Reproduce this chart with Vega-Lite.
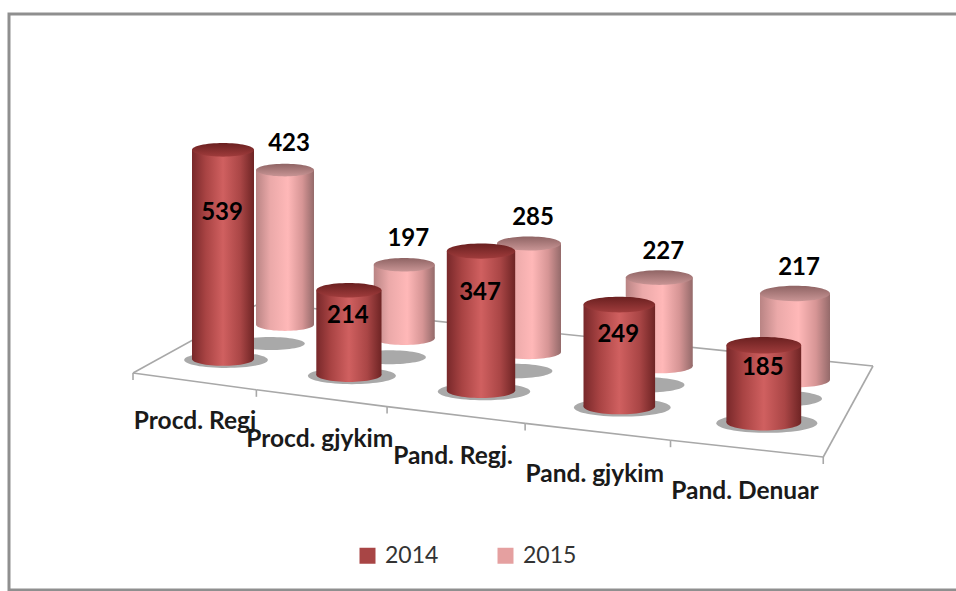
{
"$schema":"https://vega.github.io/schema/vega-lite/v6.json",
"width":951,"height":576,
"autosize":{"type":"none"},
"padding":{"left":9,"top":14,"right":0,"bottom":1},
"background":"white",
"view":{"stroke":"#8f8f8f","strokeWidth":3,"fill":"white"},
"data":{"values":[
{"category":"Procd. Regj","year":2014,"value":539},
{"category":"Procd. gjykim","year":2014,"value":214},
{"category":"Pand. Regj.","year":2014,"value":347},
{"category":"Pand. gjykim","year":2014,"value":249},
{"category":"Pand. Denuar","year":2014,"value":185},
{"category":"Procd. Regj","year":2015,"value":423},
{"category":"Procd. gjykim","year":2015,"value":197},
{"category":"Pand. Regj.","year":2015,"value":285},
{"category":"Pand. gjykim","year":2015,"value":227},
{"category":"Pand. Denuar","year":2015,"value":217}
]},
"transform":[
{"window":[{"op":"row_number","as":"n"}],"groupby":["year"]},
{"calculate":"datum.n-1","as":"i"},
{"calculate":"datum.year==2014?223+122.8*datum.i+3.1*datum.i*datum.i:285+116.5*datum.i+2.75*datum.i*datum.i","as":"cx"},
{"calculate":"datum.year==2014?62+3.2*datum.i:58+3*datum.i","as":"w"},
{"calculate":"datum.year==2014?359+15.8*datum.i:324.5+13.8*datum.i","as":"base"},
{"calculate":"datum.year==2014?0.388+0.007*datum.i:0.365+0.008*datum.i","as":"k"},
{"calculate":"datum.base-datum.k*datum.value","as":"top"},
{"calculate":"datum.cx-datum.w/2","as":"xl"},
{"calculate":"datum.cx+datum.w/2","as":"xr"},
{"calculate":"datum.w*datum.w","as":"capSize"},
{"calculate":"datum.year==2014?datum.cx+3:datum.cx-15","as":"sx"},
{"calculate":"datum.year==2014?datum.base+1:datum.base+19","as":"sy"},
{"calculate":"datum.year==2014?pow(1.35*datum.w,2):pow(1.2*datum.w,2)","as":"shSize"},
{"calculate":"datum.year==2014?datum.top+0.3*(datum.base-datum.top):datum.top-26","as":"ly"},
{"calculate":"datum.year==2014?datum.cx-1:datum.cx+4","as":"lx"},
{"calculate":"133+119.7*datum.i+3.67*datum.i*datum.i","as":"fx1"},
{"calculate":"373+16.8*datum.i","as":"fy1"},
{"calculate":"133+119.7*(datum.i+1)+3.67*(datum.i+1)*(datum.i+1)","as":"fx2"},
{"calculate":"373+16.8*(datum.i+1)","as":"fy2"},
{"calculate":"260+122.6*datum.i","as":"bx1"},
{"calculate":"303+12.6*datum.i","as":"by1"},
{"calculate":"260+122.6*(datum.i+1)","as":"bx2"},
{"calculate":"303+12.6*(datum.i+1)","as":"by2"},
{"calculate":"datum.fy1+7","as":"t1"},
{"calculate":"datum.fy2+7","as":"t2"},
{"calculate":"195+120.5*datum.i+4.25*datum.i*datum.i","as":"cxl"},
{"calculate":"422+17.6*datum.i","as":"cyl"}
],
"layer":[
{"mark":{"type":"rect"},
 "encoding":{"x":{"field":"xl","type":"quantitative","scale":{"domain":[9,960],"nice":false,"zero":false},"axis":null},"x2":{"field":"xr"},"y":{"field":"top","type":"quantitative","scale":{"domain":[590,14],"nice":false,"zero":false},"axis":null},"y2":{"field":"base"},
 "color":{"field":"year","type":"nominal","scale":{"domain":["2014","2015"],"range":["#a84545","#e5a0a0"]},"legend":{"title":null,"orient":"none","legendX":347,"legendY":530,"direction":"horizontal","columns":2,"columnPadding":55,"symbolType":"square","symbolSize":256,"symbolStrokeWidth":0,"labelFont":"Lato","labelFontSize":23,"labelColor":"#333333","labelOffset":6,"labelLimit":100}}}},
{"transform":[{"filter":"datum.year==2014"}],"mark":{"type":"rule","color":"#a8a8a8","strokeWidth":1.6},
 "encoding":{"x":{"field":"fx1","type":"quantitative"},"y":{"field":"fy1","type":"quantitative"},"x2":{"field":"fx2"},"y2":{"field":"fy2"}}},
{"transform":[{"filter":"datum.year==2014"}],"mark":{"type":"rule","color":"#a8a8a8","strokeWidth":1.6},
 "encoding":{"x":{"field":"bx1","type":"quantitative"},"y":{"field":"by1","type":"quantitative"},"x2":{"field":"bx2"},"y2":{"field":"by2"}}},
{"transform":[{"filter":"datum.year==2014"}],"mark":{"type":"rule","color":"#a8a8a8","strokeWidth":1.6},
 "encoding":{"x":{"field":"fx2","type":"quantitative"},"y":{"field":"fy2","type":"quantitative"},"y2":{"field":"t2"}}},
{"transform":[{"filter":"datum.year==2014 && datum.i==0"}],"mark":{"type":"rule","color":"#a8a8a8","strokeWidth":1.6},
 "encoding":{"x":{"field":"fx1","type":"quantitative"},"y":{"field":"fy1","type":"quantitative"},"y2":{"field":"t1"}}},
{"transform":[{"filter":"datum.year==2014 && datum.i==0"}],"mark":{"type":"rule","color":"#a8a8a8","strokeWidth":1.6},
 "encoding":{"x":{"field":"fx1","type":"quantitative"},"y":{"field":"fy1","type":"quantitative"},"x2":{"field":"bx1"},"y2":{"field":"by1"}}},
{"transform":[{"filter":"datum.year==2014 && datum.i==4"}],"mark":{"type":"rule","color":"#a8a8a8","strokeWidth":1.6},
 "encoding":{"x":{"field":"fx2","type":"quantitative"},"y":{"field":"fy2","type":"quantitative"},"x2":{"field":"bx2"},"y2":{"field":"by2"}}},
{"mark":{"type":"point","filled":true,"opacity":0.75,"color":"#8c8c8c","shape":"M-1,0A1,.19,0,1,1,1,0A1,.19,0,1,1,-1,0Z"},
 "encoding":{"x":{"field":"sx","type":"quantitative"},"y":{"field":"sy","type":"quantitative"},"size":{"field":"shSize","type":"quantitative","scale":null}}},
{"transform":[{"filter":"datum.year==2015"}],"mark":{"type":"point","filled":true,"opacity":1,"fill":{"gradient":"linear","x1":0,"y1":0,"x2":1,"y2":0,"stops":[{"offset":0,"color":"#b98484"},{"offset":0.25,"color":"#eba9a9"},{"offset":0.55,"color":"#ffb8b8"},{"offset":0.8,"color":"#d69595"},{"offset":1,"color":"#946a6a"}]},"shape":"M-1,0A1,.22,0,1,1,1,0A1,.22,0,1,1,-1,0Z"},
 "encoding":{"x":{"field":"cx","type":"quantitative"},"y":{"field":"base","type":"quantitative"},"size":{"field":"capSize","type":"quantitative","scale":null}}},
{"transform":[{"filter":"datum.year==2015"}],"mark":{"type":"rect","fill":{"gradient":"linear","x1":0,"y1":0,"x2":1,"y2":0,"stops":[{"offset":0,"color":"#b98484"},{"offset":0.25,"color":"#eba9a9"},{"offset":0.55,"color":"#ffb8b8"},{"offset":0.8,"color":"#d69595"},{"offset":1,"color":"#946a6a"}]}},
 "encoding":{"x":{"field":"xl","type":"quantitative"},"x2":{"field":"xr"},"y":{"field":"top","type":"quantitative"},"y2":{"field":"base"}}},
{"transform":[{"filter":"datum.year==2015"}],"mark":{"type":"point","filled":true,"opacity":1,"fill":{"gradient":"linear","x1":0,"y1":0,"x2":0,"y2":1,"stops":[{"offset":0,"color":"#8f6464"},{"offset":1,"color":"#c99595"}]},"shape":"M-1,0A1,.22,0,1,1,1,0A1,.22,0,1,1,-1,0Z"},
 "encoding":{"x":{"field":"cx","type":"quantitative"},"y":{"field":"top","type":"quantitative"},"size":{"field":"capSize","type":"quantitative","scale":null}}},
{"transform":[{"filter":"datum.year==2014"}],"mark":{"type":"point","filled":true,"opacity":1,"fill":{"gradient":"linear","x1":0,"y1":0,"x2":1,"y2":0,"stops":[{"offset":0,"color":"#78282a"},{"offset":0.22,"color":"#a84343"},{"offset":0.5,"color":"#d06060"},{"offset":0.78,"color":"#aa4646"},{"offset":1,"color":"#6e2424"}]},"shape":"M-1,0A1,.22,0,1,1,1,0A1,.22,0,1,1,-1,0Z"},
 "encoding":{"x":{"field":"cx","type":"quantitative"},"y":{"field":"base","type":"quantitative"},"size":{"field":"capSize","type":"quantitative","scale":null}}},
{"transform":[{"filter":"datum.year==2014"}],"mark":{"type":"rect","fill":{"gradient":"linear","x1":0,"y1":0,"x2":1,"y2":0,"stops":[{"offset":0,"color":"#78282a"},{"offset":0.22,"color":"#a84343"},{"offset":0.5,"color":"#d06060"},{"offset":0.78,"color":"#aa4646"},{"offset":1,"color":"#6e2424"}]}},
 "encoding":{"x":{"field":"xl","type":"quantitative"},"x2":{"field":"xr"},"y":{"field":"top","type":"quantitative"},"y2":{"field":"base"}}},
{"transform":[{"filter":"datum.year==2014"}],"mark":{"type":"point","filled":true,"opacity":1,"fill":{"gradient":"linear","x1":0,"y1":0,"x2":0,"y2":1,"stops":[{"offset":0,"color":"#6a2020"},{"offset":1,"color":"#a03c3c"}]},"shape":"M-1,0A1,.22,0,1,1,1,0A1,.22,0,1,1,-1,0Z"},
 "encoding":{"x":{"field":"cx","type":"quantitative"},"y":{"field":"top","type":"quantitative"},"size":{"field":"capSize","type":"quantitative","scale":null}}},
{"mark":{"type":"text","font":"Lato","fontWeight":"bold","fontSize":24,"color":"#000000","baseline":"middle"},
 "encoding":{"x":{"field":"lx","type":"quantitative"},"y":{"field":"ly","type":"quantitative"},"text":{"field":"value","type":"quantitative"}}},
{"transform":[{"filter":"datum.year==2014"}],"mark":{"type":"text","font":"Lato","fontWeight":"bold","fontSize":24.5,"color":"#1a1a1a","baseline":"middle"},
 "encoding":{"x":{"field":"cxl","type":"quantitative"},"y":{"field":"cyl","type":"quantitative"},"text":{"field":"category","type":"nominal"}}}
]
}
